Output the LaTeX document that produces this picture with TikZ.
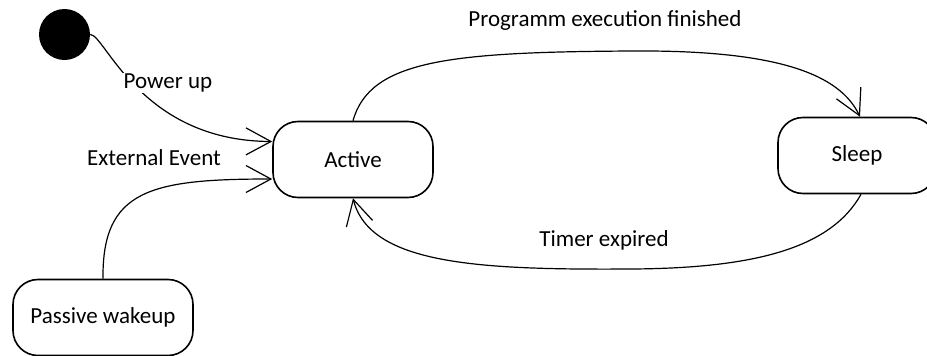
\documentclass[tikz,border=0pt]{standalone}
\usepackage{fontspec}
\setmainfont{Carlito}
\usetikzlibrary{arrows.meta,calc}
\begin{document}
\begin{tikzpicture}[x=1pt,y=-1pt,
  state/.style={draw, line width=1.6pt, rounded corners=25pt, minimum height=76pt,
    font=\fontsize{23}{27}\selectfont, inner sep=0pt},
  trans/.style={line width=1.2pt,
    -{Straight Barb[length=25pt,width=27pt,line width=1.2pt]}},
  lbl/.style={font=\fontsize{23}{27}\selectfont, fill=white, inner sep=1pt}]
\useasboundingbox (0,0) rectangle (927,356);

% states
\node[circle, fill=black, minimum size=51pt, inner sep=0pt] (init) at (64.5,34.5) {};
\node[state, minimum width=160pt] (active) at (353,159.5) {Active};
\node[state, minimum width=158pt] (sleep) at (857,155.5) {Sleep};
\node[state, minimum width=180pt] (passive) at (103,317.5) {Passive wakeup};

% transitions
\draw[trans] (init.east) .. controls (105,34) and (140,141) .. ($(active.west)+(0,-18)$);
\draw[trans] (passive.north) .. controls (102,190) and (150,179) .. ($(active.west)+(0,19.5)$);
\draw[trans] (active.north) .. controls (370,60) and (450,52) .. (633,51)
  .. controls (780,50) and (840,75) .. ($(sleep.north)+(3,0)$);
\draw[trans] ($(sleep.south)+(4,0)$) .. controls (830,250) and (750,268) .. (633,269)
  .. controls (480,270) and (370,265) .. (active.south);

% transition labels
\node[lbl] (lpower) at (168,83) {Power up};
\node[lbl] (lext) at (154,158) {External Event};
\node[lbl] (lprog) at (605,20) {Programm execution finished};
\node[lbl] (ltimer) at (604,240) {Timer expired};
\end{tikzpicture}
\end{document}
